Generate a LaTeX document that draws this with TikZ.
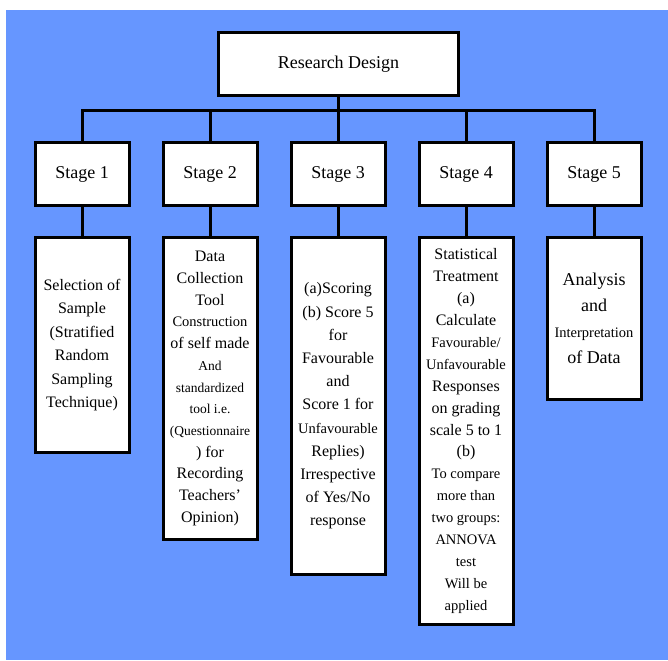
\documentclass[tikz,border=0pt]{standalone}
\usepackage{fontspec}
\setmainfont{Liberation Serif}
\usetikzlibrary{positioning}
\definecolor{chartblue}{RGB}{102,150,255}
\newcommand{\sm}{\fontsize{14.5}{21}\selectfont}
\newcommand{\xs}{\fontsize{13.5}{19}\selectfont}

\begin{document}
\begin{tikzpicture}[
    x=1pt, y=-1pt,
    node distance=29pt and 31pt,
    box/.style={rectangle, draw, fill=white, line width=3pt, align=center, minimum width=94pt},
    stagebox/.style={box, minimum height=63pt, font=\fontsize{18}{22}\selectfont},
    infobox/.style={box, inner sep=1pt},
    link/.style={line width=3pt}
]

% Background
\fill[white] (0,0) rectangle (668,660);
\fill[chartblue] (6,10) rectangle (668,660);

% Research Design
\node[box, minimum width=240pt, minimum height=63pt, font=\fontsize{18}{22}\selectfont] (root) at (338.5,64) {Research Design};

% Stages
\node[stagebox] (s1) at (82,174) {Stage 1};
\node[stagebox, right=of s1] (s2) {Stage 2};
\node[stagebox, right=of s2] (s3) {Stage 3};
\node[stagebox, right=of s3] (s4) {Stage 4};
\node[stagebox, right=of s4] (s5) {Stage 5};

% Stage 1
\node[infobox, below=of s1, minimum height=215pt, font=\fontsize{16}{23.4}\selectfont] (b1) {
    Selection of\\Sample\\(Stratified\\Random\\Sampling\\Technique)
};

% Stage 2
\node[infobox, below=of s2, minimum height=302pt, font=\fontsize{16}{21.7}\selectfont] (b2) {
    Data\\Collection\\Tool\\{\sm Construction}\\of self made\\{\xs And}\\{\xs standardized}\\{\xs tool i.e.}\\{\xs (Questionnaire}\\) for\\Recording\\Teachers'\\Opinion)
};

% Stage 3
\node[infobox, below=of s3, minimum height=337pt, font=\fontsize{16}{23.2}\selectfont] (b3) {
    (a)Scoring\\(b) Score 5\\for\\Favourable\\and\\Score 1 for\\{\sm Unfavourable}\\Replies)\\Irrespective\\of Yes/No\\response
};

% Stage 4
\node[infobox, below=of s4, minimum height=387pt, font=\fontsize{16}{21.9}\selectfont] (b4) {
    Statistical\\Treatment\\(a)\\Calculate\\{\sm Favourable/}\\{\sm Unfavourable}\\Responses\\on grading\\scale 5 to 1\\(b)\\{\sm To compare}\\{\sm more than}\\{\sm two groups:}\\{\sm ANNOVA}\\{\sm test}\\{\sm Will be}\\{\sm applied}
};

% Stage 5
\node[infobox, below=of s5, minimum height=162pt, font=\fontsize{18}{26}\selectfont] (b5) {
    Analysis\\and\\{\sm Interpretation}\\of Data
};

% Connectors
\foreach \i in {1,...,5} {
    \draw[link] (root.south) -- ++(0,14) -| (s\i.north);
    \draw[link] (s\i) -- (b\i);
}

\end{tikzpicture}
\end{document}
